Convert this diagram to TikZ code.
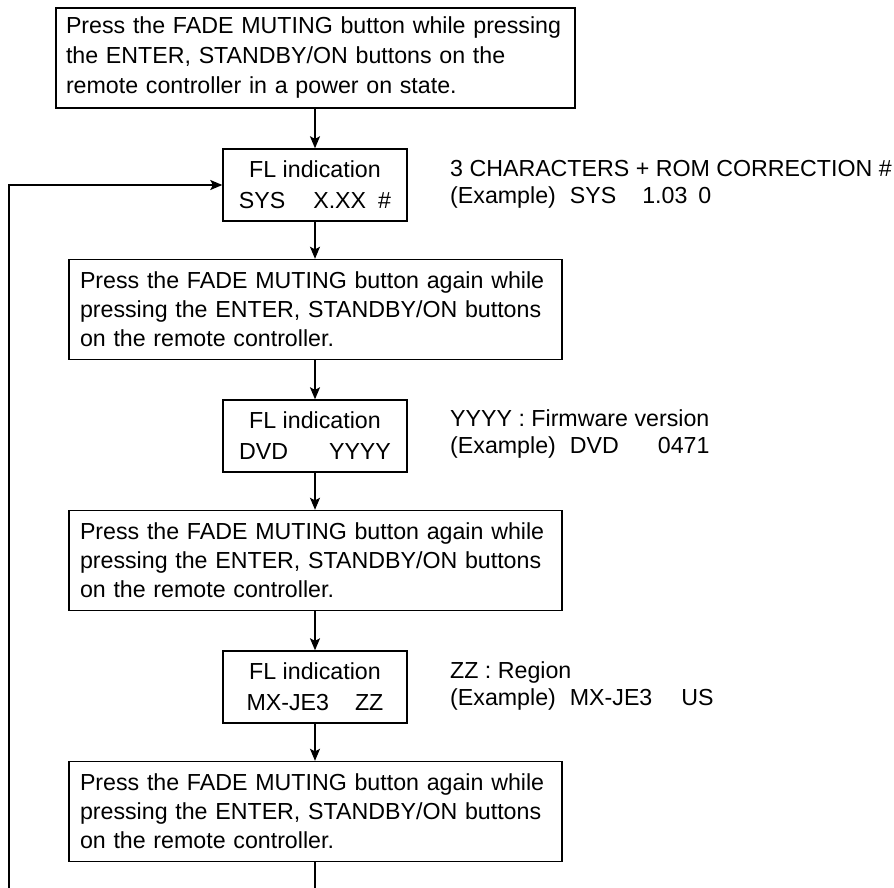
\documentclass[tikz,border=0pt]{standalone}
\usepackage{fontspec}
\setmainfont{Liberation Sans}
\usetikzlibrary{arrows.meta}
\begin{document}
\begin{tikzpicture}[x=1pt,y=-1pt,
  every node/.style={font=\fontsize{23.2}{29}\selectfont},
  stepbox/.style={draw,line width=1.4pt,inner sep=0pt,align=left,minimum height=100pt},
  flbox/.style={draw,line width=1.4pt,inner sep=0pt,align=center,minimum width=184pt,minimum height=72pt,font=\fontsize{23.2}{31}\selectfont},
  side/.style={anchor=west,inner sep=0pt,align=left,font=\fontsize{23.2}{27}\selectfont},
  conn/.style={line width=1.4pt,-{Stealth[length=12pt,width=10pt,inset=2.5pt]}}]
\useasboundingbox (0,0) rectangle (894,888);
\clip (0,0) rectangle (894,888);
\node[stepbox,minimum width=519pt,text width=499pt,font=\fontsize{23.2}{30}\selectfont] (b1) at (315.5,58)
  {Press the FADE MUTING button while pressing\\the ENTER, STANDBY/ON buttons on the\\remote controller in a power on state.};
\node[flbox] (f1) at (315,185) {FL indication\\SYS\hspace{28pt}X.XX\hspace{12pt}\#};
\node[side] (s1) at (450,184) {3 CHARACTERS + ROM CORRECTION \#\\(Example)\hspace{14pt}SYS\hspace{26pt}1.03\hspace{11pt}0};
\node[stepbox,minimum width=493pt,text width=471pt] (b2) at (315.5,309.5)
  {Press the FADE MUTING button again while\\pressing the ENTER, STANDBY/ON buttons\\on the remote controller.};
\node[flbox] (f2) at (315,436) {FL indication\\DVD\hspace{41pt}YYYY};
\node[side] (s2) at (450,434) {YYYY : Firmware version\\(Example)\hspace{14pt}DVD\hspace{39pt}0471};
\node[stepbox,minimum width=493pt,text width=471pt] (b3) at (315.5,560.5)
  {Press the FADE MUTING button again while\\pressing the ENTER, STANDBY/ON buttons\\on the remote controller.};
\node[flbox] (f3) at (315,687) {FL indication\\MX-JE3\hspace{26pt}ZZ};
\node[side] (s3) at (450,686) {ZZ : Region\\(Example)\hspace{14pt}MX-JE3\hspace{29pt}US};
\node[stepbox,minimum width=493pt,text width=471pt] (b4) at (315.5,811.5)
  {Press the FADE MUTING button again while\\pressing the ENTER, STANDBY/ON buttons\\on the remote controller.};
\coordinate (lb) at (9,900);
\draw[conn] (b1.south -| f1.north) -- (f1.north);
\draw[conn] (f1) -- (b2.north -| f1.south);
\draw[conn] (b2.south -| f2.north) -- (f2.north);
\draw[conn] (f2) -- (b3.north -| f2.south);
\draw[conn] (b3.south -| f3.north) -- (f3.north);
\draw[conn] (f3) -- (b4.north -| f3.south);
\draw[conn] (b4.south -| f3.south) |- (lb) |- (f1.west);
\end{tikzpicture}
\end{document}
